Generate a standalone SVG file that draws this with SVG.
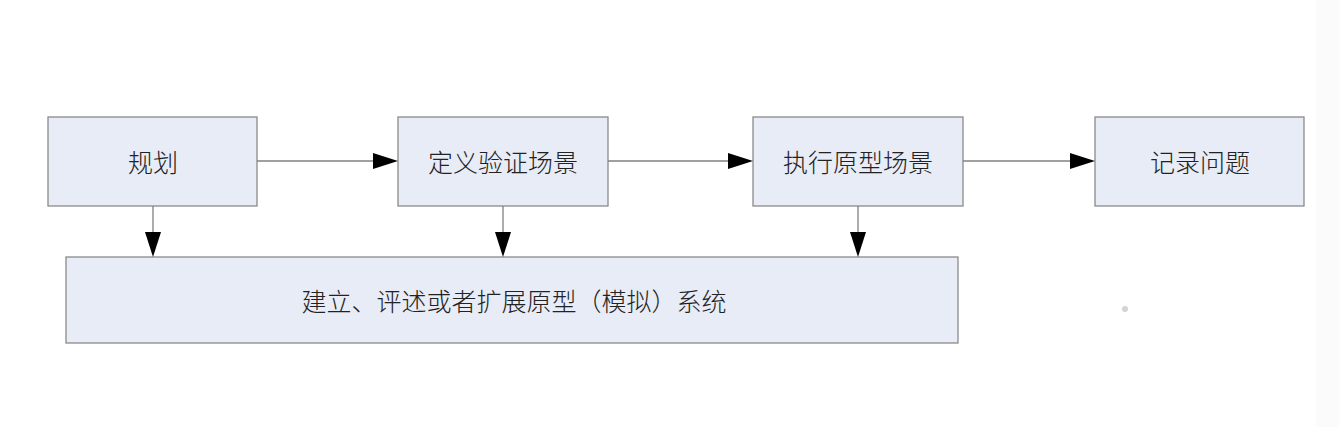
<svg xmlns="http://www.w3.org/2000/svg" width="1339" height="427" viewBox="0 0 1339 427">
<style>
.box{fill:#e8ecf6;stroke:#8a8a8a;stroke-width:1.3}
.lbl{font-family:"Noto Sans CJK SC",sans-serif;font-size:25px;font-weight:300;fill:#222;text-anchor:middle;dominant-baseline:central}
.ln{stroke:#808080;stroke-width:1.3;fill:none}
.ah{fill:#000}
</style>
<rect width="1339" height="427" fill="#ffffff"/>
<rect x="1316" y="0" width="23" height="427" fill="#fbfbfb"/>
<g id="n1"><rect class="box" x="48" y="117" width="209" height="89"/><text class="lbl" x="153" y="161">规划</text></g>
<g id="n2"><rect class="box" x="398" y="117" width="210" height="89"/><text class="lbl" x="503" y="161">定义验证场景</text></g>
<g id="n3"><rect class="box" x="753" y="117" width="210" height="89"/><text class="lbl" x="858" y="161">执行原型场景</text></g>
<g id="n4"><rect class="box" x="1095" y="117" width="209" height="89"/><text class="lbl" x="1200" y="161">记录问题</text></g>
<g id="n5"><rect class="box" x="66" y="257" width="892" height="86"/><text class="lbl" x="514" y="300">建立、评述或者扩展原型（模拟）系统</text></g>
<g id="connectors">
<line class="ln" x1="257" y1="161" x2="374" y2="161"/>
<polygon class="ah" points="398,161 373,153 373,169"/>
<line class="ln" x1="608" y1="161" x2="729" y2="161"/>
<polygon class="ah" points="753,161 728,153 728,169"/>
<line class="ln" x1="963" y1="161" x2="1071" y2="161"/>
<polygon class="ah" points="1095,161 1070,153 1070,169"/>
<line class="ln" x1="153" y1="206" x2="153" y2="233"/>
<polygon class="ah" points="153,257 145,232 161,232"/>
<line class="ln" x1="503" y1="206" x2="503" y2="233"/>
<polygon class="ah" points="503,257 495,232 511,232"/>
<line class="ln" x1="858" y1="206" x2="858" y2="233"/>
<polygon class="ah" points="858,257 850,232 866,232"/>
</g>
<circle cx="1125" cy="309" r="3" fill="#d4d4d4"/>
</svg>
